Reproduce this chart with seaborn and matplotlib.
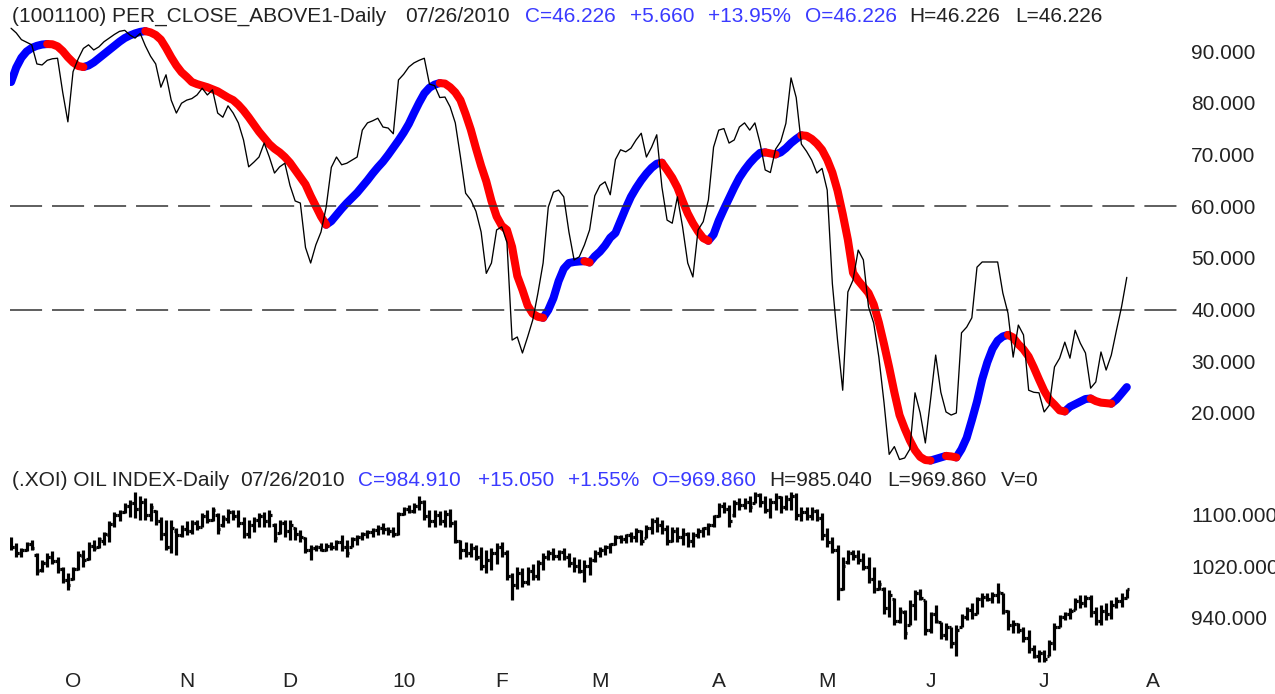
import numpy as np
import pandas as pd
import matplotlib
matplotlib.use("Agg")
import matplotlib.pyplot as plt
from matplotlib.ticker import FormatStrFormatter
import seaborn as sns

# ---------------- data ----------------
holidays = ["2009-11-26", "2009-12-25", "2010-01-01", "2010-01-18",
            "2010-02-15", "2010-04-02", "2010-05-31", "2010-07-05"]
month_labels = ["O", "N", "D", "10", "F", "M", "A", "M", "J", "J", "A"]
month_starts = ["2009-10-01", "2009-11-01", "2009-12-01", "2010-01-01", "2010-02-01",
                "2010-03-01", "2010-04-01", "2010-05-01", "2010-06-01", "2010-07-01",
                "2010-08-01"]

per_close = [
    94.4, 93.5, 92.2, 91.7, 91.2, 87.5, 87.3, 88.2, 88.5, 88.6,
    82.0, 76.3, 86.0, 88.5, 90.5, 91.2, 90.2, 90.8, 91.8, 92.5,
    93.2, 93.8, 94.0, 93.1, 92.5, 93.4, 91.0, 89.0, 87.5, 83.0,
    85.4, 80.5, 78.0, 79.9, 80.5, 80.8, 81.5, 82.8, 81.5, 82.5,
    78.0, 77.2, 79.4, 78.0, 76.1, 72.8, 67.6, 68.5, 69.5, 72.2,
    69.5, 66.4, 67.6, 68.3, 64.0, 61.0, 60.6, 52.0, 49.0, 52.5,
    55.0, 59.8, 67.5, 69.5, 68.0, 68.3, 68.9, 69.5, 74.7, 76.1,
    76.5, 77.0, 75.3, 75.1, 74.0, 84.4, 85.5, 86.9, 87.7, 88.2,
    88.6, 83.6, 83.3, 81.0, 81.1, 79.2, 76.1, 69.5, 62.5, 61.2,
    59.0, 55.0, 47.0, 49.0, 55.4, 56.0, 53.0, 34.1, 34.7, 31.6,
    34.7, 38.0, 43.2, 49.0, 59.8, 62.7, 63.1, 61.8, 55.0, 49.6,
    50.2, 52.5, 55.4, 62.0, 64.0, 64.7, 62.2, 69.0, 70.9, 70.5,
    71.2, 72.8, 74.1, 69.5, 71.4, 73.8, 63.7, 57.3, 56.7, 61.8,
    56.0, 49.0, 46.3, 55.4, 57.0, 61.2, 71.4, 74.7, 75.0, 72.2,
    72.8, 75.3, 76.1, 74.7, 76.1, 72.2, 67.0, 66.5, 71.0, 72.5,
    76.0, 84.8, 81.0, 72.0, 70.6, 68.9, 66.4, 67.3, 63.1, 45.0,
    34.1, 24.4, 43.4, 45.7, 51.5, 49.6, 40.5, 37.4, 30.8, 22.0,
    12.0, 13.5, 11.0, 11.3, 13.0, 23.9, 20.0, 14.2, 22.5, 31.2,
    24.0, 20.2, 19.6, 20.0, 35.5, 36.6, 38.4, 48.2, 49.2, 49.2,
    49.2, 49.2, 43.2, 39.3, 30.8, 37.0, 35.1, 24.4, 24.0, 23.9,
    20.2, 21.5, 28.9, 30.6, 33.7, 30.6, 36.0, 33.5, 31.6, 24.8,
    26.0, 31.8, 28.3, 31.2, 36.0, 40.6, 46.226,
]

per_smooth = [
    84.0, 86.8, 88.7, 89.9, 90.6, 91.0, 91.25, 91.35, 91.3, 90.9,
    90.0, 88.8, 87.8, 87.1, 86.9, 87.2, 87.8, 88.6, 89.4, 90.2,
    91.0, 91.8, 92.5, 93.0, 93.4, 93.7, 93.85, 93.6, 93.1, 92.2,
    90.6, 88.8, 87.2, 85.9, 85.0, 84.0, 83.6, 83.3, 83.0, 82.6,
    82.2, 81.6, 81.0, 80.5, 79.6, 78.5, 77.2, 75.8, 74.4, 73.2,
    72.0, 71.1, 70.4, 69.5, 68.4, 67.0, 65.6, 64.2, 62.0, 60.0,
    58.0, 56.4, 57.1, 58.3, 59.5, 60.6, 61.6, 62.6, 63.8, 65.0,
    66.3, 67.5, 68.6, 69.9, 71.3, 72.7, 74.2, 75.9, 78.0, 80.0,
    81.8, 82.9, 83.5, 83.8, 83.7, 83.0, 82.0, 80.5, 77.8, 74.8,
    71.2, 67.8, 64.8, 61.0, 58.0, 56.2, 55.4, 52.1, 46.5, 43.8,
    40.8, 39.2, 38.6, 38.4, 39.9, 42.2, 45.5, 47.9, 49.0, 49.2,
    49.3, 49.35, 49.1, 50.3, 51.2, 52.4, 53.9, 54.8, 57.2, 59.6,
    61.8, 63.5, 65.0, 66.3, 67.4, 68.2, 68.4, 67.0, 65.5, 63.6,
    61.0, 58.6, 56.7, 55.1, 53.8, 53.3, 54.5, 57.2, 59.4, 61.5,
    63.6, 65.5, 67.0, 68.3, 69.4, 70.3, 70.4, 70.2, 70.0, 70.4,
    71.2, 72.2, 73.0, 73.7, 73.6, 73.0, 72.1, 70.9, 69.0, 66.5,
    63.0, 58.5, 53.5, 47.1, 45.6, 44.4, 43.2, 41.0, 37.5, 33.3,
    28.8, 24.0, 19.6, 17.0, 14.7, 12.8, 11.5, 10.9, 10.8, 11.1,
    11.4, 11.7, 11.6, 11.4, 13.0, 15.2, 18.6, 22.2, 26.5, 29.8,
    32.4, 34.0, 34.8, 35.1, 34.6, 33.3, 32.3, 30.9, 28.8, 26.5,
    24.3, 22.6, 21.6, 20.5, 20.3, 21.2, 21.7, 22.2, 22.7, 22.8,
    22.3, 22.0, 21.9, 21.8, 22.6, 23.8, 25.0,
]

oil_high = [
    1066, 1056, 1048, 1058, 1061, 1040, 1030, 1040, 1043, 1035,
    1019, 1009, 1019, 1043, 1045, 1058, 1061, 1066, 1074, 1090,
    1105, 1108, 1118, 1123, 1136, 1129, 1126, 1118, 1108, 1097,
    1092, 1092, 1079, 1084, 1090, 1092, 1092, 1103, 1108, 1113,
    1103, 1100, 1110, 1108, 1108, 1097, 1092, 1097, 1103, 1105,
    1108, 1087, 1092, 1092, 1092, 1082, 1077, 1066, 1053, 1053,
    1056, 1056, 1058, 1061, 1069, 1061, 1066, 1069, 1074, 1077,
    1079, 1084, 1087, 1082, 1082, 1105, 1113, 1115, 1118, 1129,
    1123, 1108, 1108, 1106, 1108, 1110, 1092, 1061, 1058, 1056,
    1053, 1050, 1045, 1048, 1056, 1058, 1045, 1009, 1019, 1017,
    1019, 1024, 1030, 1040, 1045, 1048, 1046, 1048, 1040, 1035,
    1032, 1030, 1035, 1045, 1050, 1053, 1056, 1069, 1069, 1071,
    1074, 1079, 1077, 1084, 1095, 1097, 1092, 1084, 1082, 1082,
    1079, 1074, 1074, 1079, 1082, 1087, 1100, 1118, 1121, 1115,
    1123, 1126, 1126, 1129, 1136, 1134, 1129, 1126, 1134, 1129,
    1131, 1136, 1134, 1113, 1113, 1113, 1110, 1103, 1079, 1066,
    1053, 1035, 1045, 1045, 1045, 1040, 1035, 1019, 998, 988,
    983, 970, 957, 952, 967, 983, 985, 967, 949, 959,
    933, 931, 925, 928, 946, 957, 962, 972, 978, 978,
    980, 993, 978, 952, 936, 931, 925, 920, 897, 889,
    889, 905, 931, 944, 949, 954, 970, 975, 975, 975,
    957, 959, 962, 967, 972, 978, 985.04,
]

oil_low = [
    1045, 1035, 1035, 1043, 1045, 1006, 1011, 1019, 1024, 1009,
    993, 983, 998, 1014, 1019, 1030, 1043, 1048, 1053, 1058,
    1082, 1090, 1103, 1097, 1095, 1092, 1092, 1090, 1084, 1061,
    1045, 1040, 1038, 1066, 1069, 1071, 1077, 1082, 1087, 1090,
    1071, 1082, 1087, 1092, 1082, 1064, 1064, 1074, 1082, 1082,
    1082, 1058, 1071, 1066, 1061, 1061, 1058, 1040, 1030, 1043,
    1043, 1043, 1045, 1045, 1043, 1035, 1050, 1053, 1061, 1064,
    1066, 1069, 1071, 1069, 1066, 1069, 1100, 1103, 1103, 1108,
    1092, 1082, 1082, 1084, 1082, 1082, 1056, 1032, 1035, 1035,
    1030, 1014, 1009, 1014, 1024, 1035, 998, 967, 985, 988,
    991, 998, 998, 1014, 1030, 1030, 1030, 1030, 1019, 1011,
    1009, 996, 1006, 1027, 1035, 1038, 1040, 1053, 1056, 1056,
    1058, 1058, 1053, 1064, 1071, 1074, 1071, 1053, 1058, 1058,
    1053, 1050, 1050, 1064, 1066, 1069, 1082, 1097, 1103, 1082,
    1097, 1108, 1110, 1105, 1118, 1113, 1103, 1095, 1108, 1103,
    1108, 1108, 1092, 1090, 1092, 1092, 1090, 1061, 1050, 1040,
    967, 983, 1024, 1030, 1024, 1014, 993, 978, 983, 946,
    941, 928, 931, 907, 928, 936, 967, 913, 915, 931,
    907, 905, 892, 879, 925, 936, 938, 946, 957, 965,
    962, 962, 946, 920, 915, 915, 902, 884, 876, 871,
    871, 879, 889, 925, 936, 938, 952, 954, 957, 941,
    928, 928, 936, 938, 954, 957, 969.86,
]

oil_open = [
    1062, 1050, 1040, 1045, 1055, 1038, 1014, 1025, 1035, 1028,
    1015, 998, 1000, 1016, 1036, 1032, 1052, 1050, 1060, 1068,
    1086, 1100, 1105, 1114, 1118, 1110, 1120, 1100, 1106, 1090,
    1070, 1050, 1075, 1068, 1078, 1075, 1088, 1082, 1098, 1092,
    1100, 1084, 1094, 1104, 1098, 1088, 1070, 1085, 1092, 1098,
    1090, 1084, 1072, 1088, 1075, 1080, 1070, 1064, 1045, 1048,
    1050, 1046, 1052, 1050, 1058, 1050, 1050, 1062, 1066, 1070,
    1074, 1076, 1080, 1078, 1075, 1070, 1102, 1110, 1106, 1114,
    1120, 1098, 1090, 1100, 1090, 1102, 1088, 1060, 1045, 1040,
    1048, 1035, 1020, 1030, 1040, 1050, 1040, 1005, 990, 1010,
    995, 1012, 1005, 1025, 1035, 1040, 1036, 1042, 1035, 1025,
    1020, 1012, 1020, 1030, 1040, 1046, 1050, 1054, 1065, 1062,
    1068, 1066, 1075, 1064, 1080, 1090, 1085, 1078, 1060, 1075,
    1065, 1070, 1060, 1068, 1075, 1080, 1084, 1098, 1114, 1110,
    1100, 1118, 1115, 1120, 1118, 1132, 1120, 1108, 1120, 1128,
    1112, 1125, 1130, 1100, 1105, 1098, 1106, 1095, 1068, 1058,
    1045, 985, 1026, 1040, 1036, 1030, 1018, 1000, 985, 985,
    955, 968, 935, 948, 928, 960, 978, 967, 920, 945,
    933, 912, 925, 900, 925, 940, 952, 946, 968, 972,
    968, 975, 978, 950, 928, 930, 920, 908, 890, 880,
    885, 880, 900, 925, 940, 945, 952, 965, 962, 970,
    948, 935, 950, 945, 960, 965, 969.86,
]

oil_close = [
    1050, 1040, 1045, 1055, 1048, 1012, 1025, 1035, 1028, 1015,
    998, 990, 1015, 1038, 1030, 1052, 1048, 1062, 1070, 1086,
    1100, 1104, 1114, 1118, 1110, 1120, 1100, 1112, 1090, 1070,
    1050, 1080, 1068, 1078, 1075, 1088, 1082, 1098, 1092, 1108,
    1078, 1096, 1105, 1098, 1088, 1070, 1085, 1092, 1098, 1090,
    1100, 1064, 1088, 1075, 1085, 1070, 1065, 1045, 1048, 1050,
    1046, 1052, 1050, 1058, 1050, 1040, 1062, 1066, 1070, 1074,
    1076, 1080, 1078, 1075, 1070, 1102, 1110, 1106, 1114, 1120,
    1098, 1090, 1100, 1090, 1102, 1088, 1060, 1045, 1040, 1048,
    1035, 1020, 1030, 1040, 1050, 1040, 1005, 990, 1010, 995,
    1012, 1005, 1025, 1035, 1040, 1036, 1042, 1035, 1025, 1020,
    1012, 1020, 1030, 1040, 1046, 1050, 1054, 1065, 1062, 1068,
    1066, 1075, 1060, 1080, 1090, 1085, 1078, 1060, 1075, 1065,
    1070, 1060, 1068, 1075, 1080, 1084, 1098, 1114, 1110, 1090,
    1118, 1115, 1120, 1112, 1132, 1120, 1108, 1120, 1128, 1112,
    1125, 1130, 1100, 1105, 1098, 1106, 1095, 1068, 1058, 1045,
    985, 1020, 1040, 1036, 1030, 1018, 1000, 985, 992, 955,
    975, 935, 950, 915, 960, 978, 970, 920, 945, 935,
    912, 925, 900, 920, 940, 952, 945, 968, 972, 968,
    975, 980, 950, 928, 930, 920, 908, 890, 880, 885,
    875, 900, 925, 940, 945, 950, 965, 962, 970, 948,
    935, 950, 945, 960, 965, 969.86, 984.91,
]

top_ticks = [20, 30, 40, 50, 60, 70, 80, 90]
bottom_ticks = [940, 1020, 1100]
ref_levels = [60, 40]

# ---------------- calendar ----------------
hol = pd.to_datetime(holidays)
all_days = pd.bdate_range("2009-09-15", "2010-08-31")
all_days = all_days[~all_days.isin(hol)]
n = len(per_close)
dates = all_days[:n]
xpos = np.arange(n)
tick_pos = [int(np.argmax(all_days >= pd.Timestamp(m))) for m in month_starts]

# ---------------- figure ----------------
sns.set_theme(style="white")
plt.rcParams['font.family'] = ['Liberation Sans', 'DejaVu Sans']

W, H = 1275, 694
fig = plt.figure(figsize=(W / 100, H / 100), dpi=100, facecolor="white")


def rect(x0, y0, x1, y1):
    return [x0 / W, 1 - y1 / H, (x1 - x0) / W, (y1 - y0) / H]


ax1 = fig.add_axes(rect(10, 25, 1180, 468))
ax2 = fig.add_axes(rect(10, 490, 1180, 665), sharex=ax1)

TXT = "#222222"
BLUE = "#3a3aff"
FS = 15

# --- top panel: smoothed line coloured by direction ---
sm = np.asarray(per_smooth, dtype=float)
direction = np.where(np.diff(sm) >= 0, "up", "down")
rows = []
run = 0
start = 0
for k in range(1, len(direction) + 1):
    if k == len(direction) or direction[k] != direction[start]:
        for j in range(start, k + 1):
            rows.append((xpos[j], sm[j], run, direction[start]))
        run += 1
        start = k
df_sm = pd.DataFrame(rows, columns=["x", "v", "run", "dir"])
sns.lineplot(data=df_sm, x="x", y="v", hue="dir", units="run", estimator=None,
             palette={"up": "#0000ff", "down": "#ff0000"}, linewidth=5.8,
             legend=False, sort=False, ax=ax1, solid_capstyle="round", zorder=2)

for lvl in ref_levels:
    ax1.axhline(lvl, color="#333333", linewidth=1.1, dashes=(21, 6.5), zorder=2.5)

df_pc = pd.DataFrame({"x": xpos, "v": per_close})
sns.lineplot(data=df_pc, x="x", y="v", color="black", linewidth=0.95,
             estimator=None, sort=False, ax=ax1, zorder=3)

# --- bottom panel: OHLC bars ---
tick = 0.5
seg = []
for k in range(n):
    seg += [(xpos[k], oil_low[k], 3 * k), (xpos[k], oil_high[k], 3 * k)]
    seg += [(xpos[k] - tick, oil_open[k], 3 * k + 1), (xpos[k], oil_open[k], 3 * k + 1)]
    seg += [(xpos[k], oil_close[k], 3 * k + 2), (xpos[k] + tick, oil_close[k], 3 * k + 2)]
df_oil = pd.DataFrame(seg, columns=["x", "v", "seg"])
sns.lineplot(data=df_oil, x="x", y="v", units="seg", estimator=None, color="black",
             linewidth=2.3, sort=False, ax=ax2, solid_capstyle="butt")

# --- axes styling ---
ax1.set_xlim(-0.206, 226.3)
ax1.set_ylim(9.36, 95.03)
ax2.set_ylim(865.6, 1139.06)

for ax in (ax1, ax2):
    for s in ax.spines.values():
        s.set_visible(False)
    ax.set_xlabel("")
    ax.set_ylabel("")
    ax.yaxis.tick_right()
    ax.tick_params(axis="y", length=0, pad=8, labelsize=FS, labelcolor=TXT)
    ax.yaxis.set_major_formatter(FormatStrFormatter("%.3f"))
    ax.grid(False)

ax1.set_yticks(top_ticks)
ax2.set_yticks(bottom_ticks)
ax1.tick_params(axis="x", length=0, labelbottom=False)
ax2.set_xticks(tick_pos)
ax2.set_xticklabels(month_labels)
ax2.tick_params(axis="x", length=0, pad=5, labelsize=FS, labelcolor=TXT)

# --- header texts ---
top_parts = [
    (12, "(1001100) PER_CLOSE_ABOVE1-Daily", TXT),
    (405, "07/26/2010", TXT),
    (525, "C=46.226", BLUE),
    (630, "+5.660", BLUE),
    (708, "+13.95%", BLUE),
    (805, "O=46.226", BLUE),
    (909, "H=46.226", TXT),
    (1015, "L=46.226", TXT),
]
bottom_parts = [
    (12, "(.XOI) OIL INDEX-Daily", TXT),
    (240, "07/26/2010", TXT),
    (358, "C=984.910", BLUE),
    (478, "+15.050", BLUE),
    (568, "+1.55%", BLUE),
    (652, "O=969.860", BLUE),
    (769, "H=985.040", TXT),
    (887, "L=969.860", TXT),
    (1001, "V=0", TXT),
]
for x, s, c in top_parts:
    fig.text(x / W, 1 - 16 / H, s, color=c, fontsize=FS, ha="left", va="center")
for x, s, c in bottom_parts:
    fig.text(x / W, 1 - 480 / H, s, color=c, fontsize=FS, ha="left", va="center")

fig.savefig("out.png", dpi=100, facecolor="white")
